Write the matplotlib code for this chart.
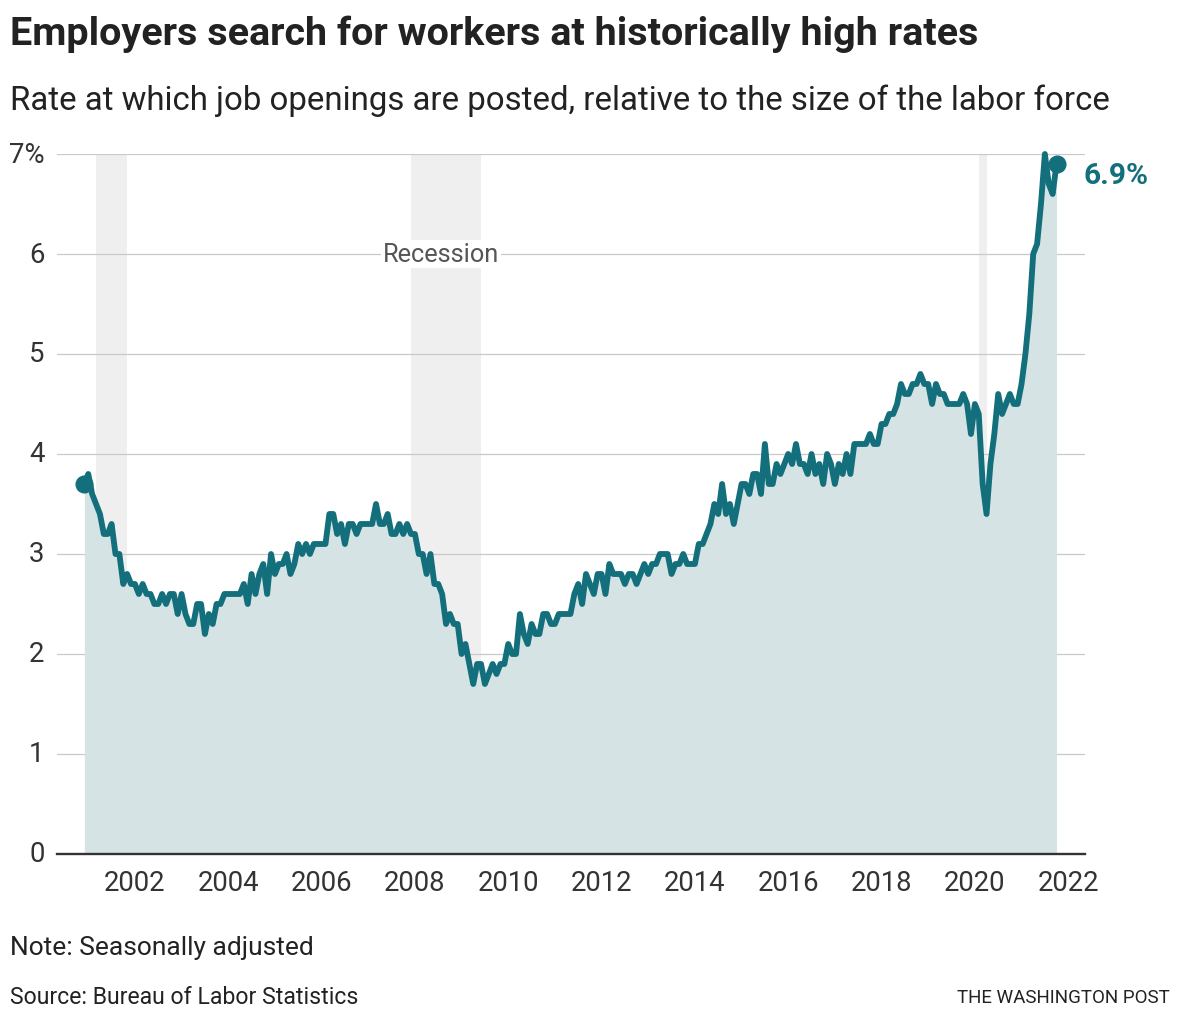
import matplotlib
matplotlib.use("Agg")
import matplotlib.pyplot as plt

plt.rcParams['font.family'] = ['Roboto', 'DejaVu Sans']

# ---------------- data (job openings rate, %, monthly, seasonally adjusted) ----------------
rate_2000 = [3.7]  # December only
rate_2001 = [3.8, 3.6, 3.5, 3.4, 3.2, 3.2, 3.3, 3.0, 3.0, 2.7, 2.8, 2.7]
rate_2002 = [2.7, 2.6, 2.7, 2.6, 2.6, 2.5, 2.5, 2.6, 2.5, 2.6, 2.6, 2.4]
rate_2003 = [2.6, 2.4, 2.3, 2.3, 2.5, 2.5, 2.2, 2.4, 2.3, 2.5, 2.5, 2.6]
rate_2004 = [2.6, 2.6, 2.6, 2.6, 2.7, 2.5, 2.8, 2.6, 2.8, 2.9, 2.6, 3.0]
rate_2005 = [2.8, 2.9, 2.9, 3.0, 2.8, 2.9, 3.1, 3.0, 3.1, 3.0, 3.1, 3.1]
rate_2006 = [3.1, 3.1, 3.4, 3.4, 3.2, 3.3, 3.1, 3.3, 3.3, 3.2, 3.3, 3.3]
rate_2007 = [3.3, 3.3, 3.5, 3.3, 3.3, 3.4, 3.2, 3.2, 3.3, 3.2, 3.3, 3.2]
rate_2008 = [3.2, 3.0, 3.0, 2.8, 3.0, 2.7, 2.7, 2.6, 2.3, 2.4, 2.3, 2.3]
rate_2009 = [2.0, 2.1, 1.9, 1.7, 1.9, 1.9, 1.7, 1.8, 1.9, 1.8, 1.9, 1.9]
rate_2010 = [2.1, 2.0, 2.0, 2.4, 2.2, 2.1, 2.3, 2.2, 2.2, 2.4, 2.4, 2.3]
rate_2011 = [2.3, 2.4, 2.4, 2.4, 2.4, 2.6, 2.7, 2.5, 2.8, 2.7, 2.6, 2.8]
rate_2012 = [2.8, 2.6, 2.9, 2.8, 2.8, 2.8, 2.7, 2.8, 2.8, 2.7, 2.8, 2.9]
rate_2013 = [2.8, 2.9, 2.9, 3.0, 3.0, 3.0, 2.8, 2.9, 2.9, 3.0, 2.9, 2.9]
rate_2014 = [2.9, 3.1, 3.1, 3.2, 3.3, 3.5, 3.4, 3.7, 3.4, 3.5, 3.3, 3.5]
rate_2015 = [3.7, 3.7, 3.6, 3.8, 3.8, 3.6, 4.1, 3.7, 3.7, 3.9, 3.8, 3.9]
rate_2016 = [4.0, 3.9, 4.1, 3.9, 3.9, 3.8, 4.0, 3.8, 3.9, 3.7, 4.0, 3.9]
rate_2017 = [3.7, 3.9, 3.8, 4.0, 3.8, 4.1, 4.1, 4.1, 4.1, 4.2, 4.1, 4.1]
rate_2018 = [4.3, 4.3, 4.4, 4.4, 4.5, 4.7, 4.6, 4.6, 4.7, 4.7, 4.8, 4.7]
rate_2019 = [4.7, 4.5, 4.7, 4.6, 4.6, 4.5, 4.5, 4.5, 4.5, 4.6, 4.5, 4.2]
rate_2020 = [4.5, 4.4, 3.7, 3.4, 3.9, 4.2, 4.6, 4.4, 4.5, 4.6, 4.5, 4.5]
rate_2021 = [4.7, 5.0, 5.4, 6.0, 6.1, 6.5, 7.0, 6.7, 6.6, 6.9]  # Jan-Oct

series_by_year = [
    (2000, 12, rate_2000), (2001, 1, rate_2001), (2002, 1, rate_2002), (2003, 1, rate_2003),
    (2004, 1, rate_2004), (2005, 1, rate_2005), (2006, 1, rate_2006), (2007, 1, rate_2007),
    (2008, 1, rate_2008), (2009, 1, rate_2009), (2010, 1, rate_2010), (2011, 1, rate_2011),
    (2012, 1, rate_2012), (2013, 1, rate_2013), (2014, 1, rate_2014), (2015, 1, rate_2015),
    (2016, 1, rate_2016), (2017, 1, rate_2017), (2018, 1, rate_2018), (2019, 1, rate_2019),
    (2020, 1, rate_2020), (2021, 1, rate_2021),
]

# recessions (start month, end month) as (year, month)
recession_start = [(2001, 3), (2007, 12), (2020, 2)]
recession_end = [(2001, 11), (2009, 6), (2020, 4)]

x_ticks = [2002, 2004, 2006, 2008, 2010, 2012, 2014, 2016, 2018, 2020, 2022]
x_tick_labels = [str(v) for v in x_ticks]
y_ticks = [0, 1, 2, 3, 4, 5, 6, 7]
y_tick_labels = ['0', '1', '2', '3', '4', '5', '6', '7%']

title = "Employers search for workers at historically high rates"
subtitle = "Rate at which job openings are posted, relative to the size of the labor force"
note = "Note: Seasonally adjusted"
source = "Source: Bureau of Labor Statistics"
credit = "THE WASHINGTON POST"
recession_label = "Recession"
end_label = "6.9%"

# ---------------- build series ----------------
t, v = [], []
for year, start_m, vals in series_by_year:
    for i, val in enumerate(vals):
        m = start_m + i
        t.append(year + (m - 1) / 12.0)
        v.append(val)

def ym(y, m):
    return y + (m - 1) / 12.0

# ---------------- figure ----------------
W, H = 1180, 1020
fig = plt.figure(figsize=(W / 100, H / 100), dpi=100)
fig.patch.set_facecolor('white')

ax_l, ax_r, ax_b, ax_t = 57, 1085, 855, 155
ax = fig.add_axes([ax_l / W, 1 - ax_b / H, (ax_r - ax_l) / W, (ax_b - ax_t) / H])

LINE = '#136f7b'
FILL = '#d5e3e5'
BAND = '#efefef'
GRID = '#c9c9c9'
TXT = '#222222'

ax.set_xlim(2000.33, 2022.36)
ax.set_ylim(0, 7)

for s, e in zip(recession_start, recession_end):
    ax.axvspan(ym(*s), ym(*e), ymin=0, ymax=1, color=BAND, lw=0, zorder=0)

for yv in y_ticks[1:]:
    ax.axhline(yv, color=GRID, lw=0.9, zorder=1)

ax.fill_between(t, 0, v, color=FILL, lw=0, zorder=2)
ax.plot(t, v, color=LINE, lw=4.2, zorder=3, solid_joinstyle='round', solid_capstyle='round', clip_on=False)
ax.plot([t[0], t[-1]], [v[0], v[-1]], 'o', color=LINE, ms=12, zorder=4, clip_on=False)

ax.set_xticks(x_ticks)
ax.set_xticklabels(x_tick_labels)
ax.set_yticks(y_ticks)
ax.set_yticklabels(y_tick_labels)
ax.tick_params(axis='both', length=0, labelsize=19.8, colors='#333333')
ax.tick_params(axis='x', pad=11)
ax.tick_params(axis='y', pad=9)
for lab in ax.get_yticklabels():
    lab.set_verticalalignment('center')
for sp in ['top', 'left', 'right']:
    ax.spines[sp].set_visible(False)
ax.spines['bottom'].set_color('#333333')
ax.spines['bottom'].set_linewidth(1.7)
ax.spines['bottom'].set_zorder(5)

rec_txt = ax.text(2008.56, 6.0, recession_label, ha='center', va='center', color='#555555',
                  fontsize=17, zorder=6,
                  bbox=dict(facecolor='white', edgecolor='none', pad=1.5))

end_txt = ax.annotate(end_label, xy=(t[-1], v[-1]), xytext=(19.5, -8), textcoords='offset points',
                      ha='left', va='center', color=LINE, fontsize=18, fontweight='bold',
                      annotation_clip=False)

def ftext(x, y, s, **kw):
    return fig.text(x / W, 1 - y / H, s, va='baseline', **kw)

t_title = ftext(10, 45, title, fontsize=24, fontweight='bold', color=TXT)
t_sub = ftext(10, 110, subtitle, fontsize=20, color=TXT)
t_note = ftext(10, 955, note, fontsize=16, color=TXT)
t_src = ftext(10, 1004, source, fontsize=16, color=TXT)
t_cred = ftext(1170, 1003, credit, fontsize=14, color=TXT, ha='right')

# fit text widths to the reference layout
fig.canvas.draw()
r = fig.canvas.get_renderer()
for obj, target in [(t_title, 968), (t_sub, 1097), (t_note, 305), (t_src, 348),
                    (t_cred, 213), (rec_txt, 117), (end_txt, 65)]:
    w = obj.get_window_extent(r).width
    obj.set_fontsize(obj.get_fontsize() * target / w)

fig.savefig('out.png', dpi=100, facecolor='white')
